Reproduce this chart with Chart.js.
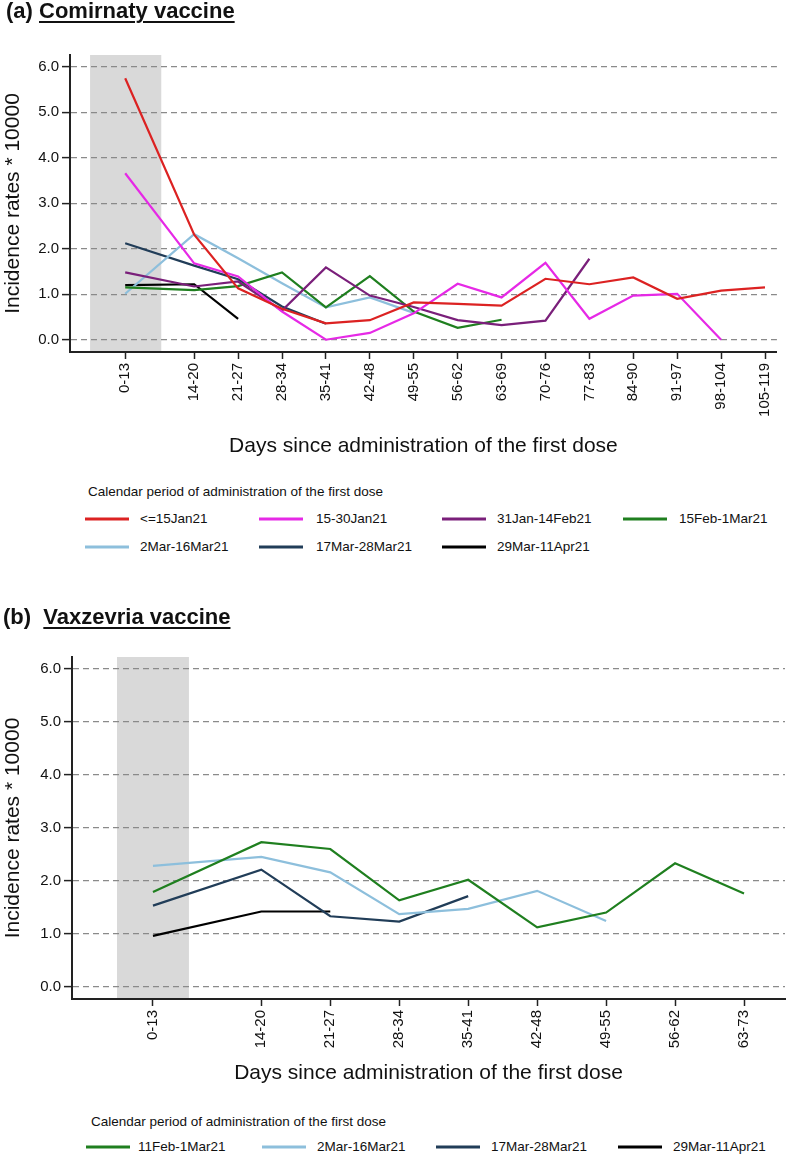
<!DOCTYPE html>
<html><head><meta charset="utf-8">
<script src="https://cdn.jsdelivr.net/npm/chart.js@4.4.1/dist/chart.umd.min.js"></script>
<style>
body{margin:0;background:#fff;width:787px;height:1166px;position:relative;overflow:hidden;font-family:"Liberation Sans",Arial,sans-serif;color:#111}
.t{position:absolute;font-weight:bold;font-size:22px;white-space:nowrap;line-height:24px;z-index:2}
.t u{text-decoration-thickness:2px;text-underline-offset:3px}
canvas{position:absolute;left:0}
.lt{position:absolute;font-size:13.5px;white-space:nowrap;line-height:16px;transform:translateY(-50%)}
.li{position:absolute;height:3px;width:44px;transform:translateY(-50%)}
</style></head><body>
<div class="t" style="left:6px;top:-1px">(a) <u>Comirnaty vaccine</u></div>
<canvas id="ca" width="787" height="463" style="top:0"></canvas>
<div id="la"></div>
<div class="t" style="left:3px;top:605px">(b)&nbsp; <u>Vaxzevria vaccine</u></div>
<canvas id="cb" width="787" height="490" style="top:600px"></canvas>
<div id="lb"></div>
<script>
// ---------- data: (a) Comirnaty ----------
const categoriesA = ['0-13','14-20','21-27','28-34','35-41','42-48','49-55','56-62','63-69','70-76','77-83','84-90','91-97','98-104','105-119'];
const daysA = [6.5, 17.5, 24.5, 31.5, 38.5, 45.5, 52.5, 59.5, 66.5, 73.5, 80.5, 87.5, 94.5, 101.5, 108.5];
const seriesNamesA = ['<=15Jan21','15-30Jan21','31Jan-14Feb21','15Feb-1Mar21','2Mar-16Mar21','17Mar-28Mar21','29Mar-11Apr21'];
const a_le15Jan21   = [5.75, 2.31, 1.13, 0.68, 0.36, 0.43, 0.82, 0.79, 0.75, 1.34, 1.22, 1.37, 0.90, 1.08, 1.15];
const a_15_30Jan21  = [3.66, 1.68, 1.39, 0.62, 0.00, 0.15, 0.58, 1.23, 0.93, 1.69, 0.46, 0.97, 1.01, 0.00, null];
const a_31Jan14Feb  = [1.48, 1.17, 1.28, 0.64, 1.59, 0.97, 0.72, 0.43, 0.32, 0.42, 1.78, null, null, null, null];
const a_15Feb1Mar   = [1.15, 1.09, 1.18, 1.48, 0.71, 1.40, 0.62, 0.26, 0.44, null, null, null, null, null, null];
const a_2Mar16Mar   = [1.01, 2.32, 1.79, 1.24, 0.71, 0.93, 0.59, null, null, null, null, null, null, null, null];
const a_17Mar28Mar  = [2.12, 1.63, 1.33, 0.73, 0.35, null, null, null, null, null, null, null, null, null, null];
const a_29Mar11Apr  = [1.20, 1.22, 0.46, null, null, null, null, null, null, null, null, null, null, null, null];

// ---------- data: (b) Vaxzevria ----------
const categoriesB = ['0-13','14-20','21-27','28-34','35-41','42-48','49-55','56-62','63-73'];
const daysB = [6.5, 17.5, 24.5, 31.5, 38.5, 45.5, 52.5, 59.5, 66.5];
const seriesNamesB = ['11Feb-1Mar21','2Mar-16Mar21','17Mar-28Mar21','29Mar-11Apr21'];
const b_11Feb1Mar  = [1.79, 2.73, 2.60, 1.63, 2.02, 1.12, 1.40, 2.33, 1.76];
const b_2Mar16Mar  = [2.28, 2.45, 2.16, 1.37, 1.47, 1.81, 1.24, null, null];
const b_17Mar28Mar = [1.53, 2.21, 1.33, 1.23, 1.71, null, null, null, null];
const b_29Mar11Apr = [0.96, 1.42, 1.42, null, null, null, null, null, null];

const yTicks = [0, 1, 2, 3, 4, 5, 6];
const yTitle = 'Incidence rates * 10000';
const xTitle = 'Days since administration of the first dose';
const legendTitle = 'Calendar period of administration of the first dose';

const C = {red:'#dc2222', magenta:'#e629e6', purple:'#7a1f7a', green:'#1f7f1f', lightblue:'#8dbfdc', navy:'#213d58', black:'#000000'};
const colorsA = [C.red, C.magenta, C.purple, C.green, C.lightblue, C.navy, C.black];
const colorsB = [C.green, C.lightblue, C.navy, C.black];

const shadePlugin = {
  id:'shade',
  beforeDraw(chart, args, opts){
    const {ctx, chartArea:a, scales:{x}} = chart;
    const x0 = x.getPixelForValue(opts.range[0]), x1 = x.getPixelForValue(opts.range[1]);
    ctx.save(); ctx.fillStyle = '#d9d9d9';
    ctx.fillRect(x0, a.top, x1 - x0, a.bottom - a.top);
    ctx.restore();
  }
};

const FONT = '"Liberation Sans", Arial, sans-serif';

function makeChart(id, cfg){
  const cv = document.getElementById(id);
  const H = cv.height;
  return new Chart(cv, {
    type:'line',
    data:{datasets: cfg.series.map((s,k)=>({
      label: cfg.names[k],
      data: s.map((v,i)=>({x: cfg.xPos[i], y: v})).filter(p=>p.y!==null),
      borderColor: cfg.colors[k], backgroundColor: cfg.colors[k],
      borderWidth: 2.2, pointRadius: 0, tension: 0, fill: false,
      borderJoinStyle: 'miter'
    }))},
    options:{
      responsive:false, animation:false, devicePixelRatio:1,
      layout:{padding:{top:cfg.top, left:0, right:cfg.rightPad, bottom:0}},
      plugins:{legend:{display:false}, tooltip:{enabled:false}, shade:{range:cfg.shade}},
      scales:{
        x:{type:'linear', min:cfg.xMin, max:cfg.xMax,
          afterBuildTicks: s=>{ s.ticks = cfg.xPos.map(v=>({value:v})); },
          afterFit: s=>{ s.height = H - cfg.bottom; },
          ticks:{autoSkip:false, minRotation:90, maxRotation:90, padding:4, color:'#111',
                 font:{family:FONT, size:15}, callback:(v,i)=>cfg.labels[i]},
          grid:{drawOnChartArea:false, tickLength:7, tickWidth:1.5, tickColor:'#222'},
          border:{color:'#222', width:2},
          title:{display:true, text:xTitle, color:'#111', font:{family:FONT, size:21}, padding:{top:0, bottom:4}}
        },
        y:{type:'linear', min:cfg.yMin, max:cfg.yMax,
          afterBuildTicks: s=>{ s.ticks = yTicks.map(v=>({value:v})); },
          afterFit: s=>{ s.width = cfg.left; },
          ticks:{padding:3, color:'#111', font:{family:FONT, size:15}, callback:v=>v.toFixed(1)},
          grid:{color:'#8a8a8a', lineWidth:1.2, tickLength:8, tickWidth:1.5, tickColor:'#222'},
          border:{color:'#222', width:2, dash:[6,4]},
          title:{display:true, text:yTitle, color:'#111', font:{family:FONT, size:21}, padding:{top:1, bottom:0}}
        }
      }
    },
    plugins:[shadePlugin]
  });
}

makeChart('ca', {
  series:[a_le15Jan21, a_15_30Jan21, a_31Jan14Feb, a_15Feb1Mar, a_2Mar16Mar, a_17Mar28Mar, a_29Mar11Apr],
  names: seriesNamesA, colors: colorsA, xPos: daysA, labels: categoriesA,
  xMin:-2.3, xMax:110.4, yMin:-0.27, yMax:6.26, shade:[0.9, 12.25],
  top:55, left:70, bottom:352, rightPad:0
});
makeChart('cb', {
  series:[b_11Feb1Mar, b_2Mar16Mar, b_17Mar28Mar, b_29Mar11Apr],
  names: seriesNamesB, colors: colorsB, xPos: daysB, labels: categoriesB,
  xMin:-1.72, xMax:70.66, yMin:-0.233, yMax:6.227, shade:[2.85, 10.15],
  top:57, left:72, bottom:399, rightPad:2
});

function buildLegend(elId, names, colors, titlePos, rows, cols){
  const el = document.getElementById(elId);
  let h = `<div class="lt" style="left:${titlePos[0]}px;top:${titlePos[1]}px"></div>`;
  names.forEach((n,k)=>{
    const r = rows[Math.floor(k / cols.length)], c = cols[k % cols.length];
    h += `<div class="li" style="left:${c[0]}px;top:${r}px;background:${colors[k]}"></div>`;
    h += `<div class="lt" style="left:${c[1]}px;top:${r}px"></div>`;
  });
  el.innerHTML = h;
  const texts = el.querySelectorAll('.lt');
  texts[0].textContent = legendTitle;
  names.forEach((n,k)=>{ texts[k+1].textContent = n; });
}
buildLegend('la', seriesNamesA, colorsA, [88, 492], [519, 547], [[85,140],[259,316],[442,497],[623,679]]);
buildLegend('lb', seriesNamesB, colorsB, [91, 1122], [1147], [[86,138],[262,317],[436,491],[618,673]]);
</script>
</body></html>
